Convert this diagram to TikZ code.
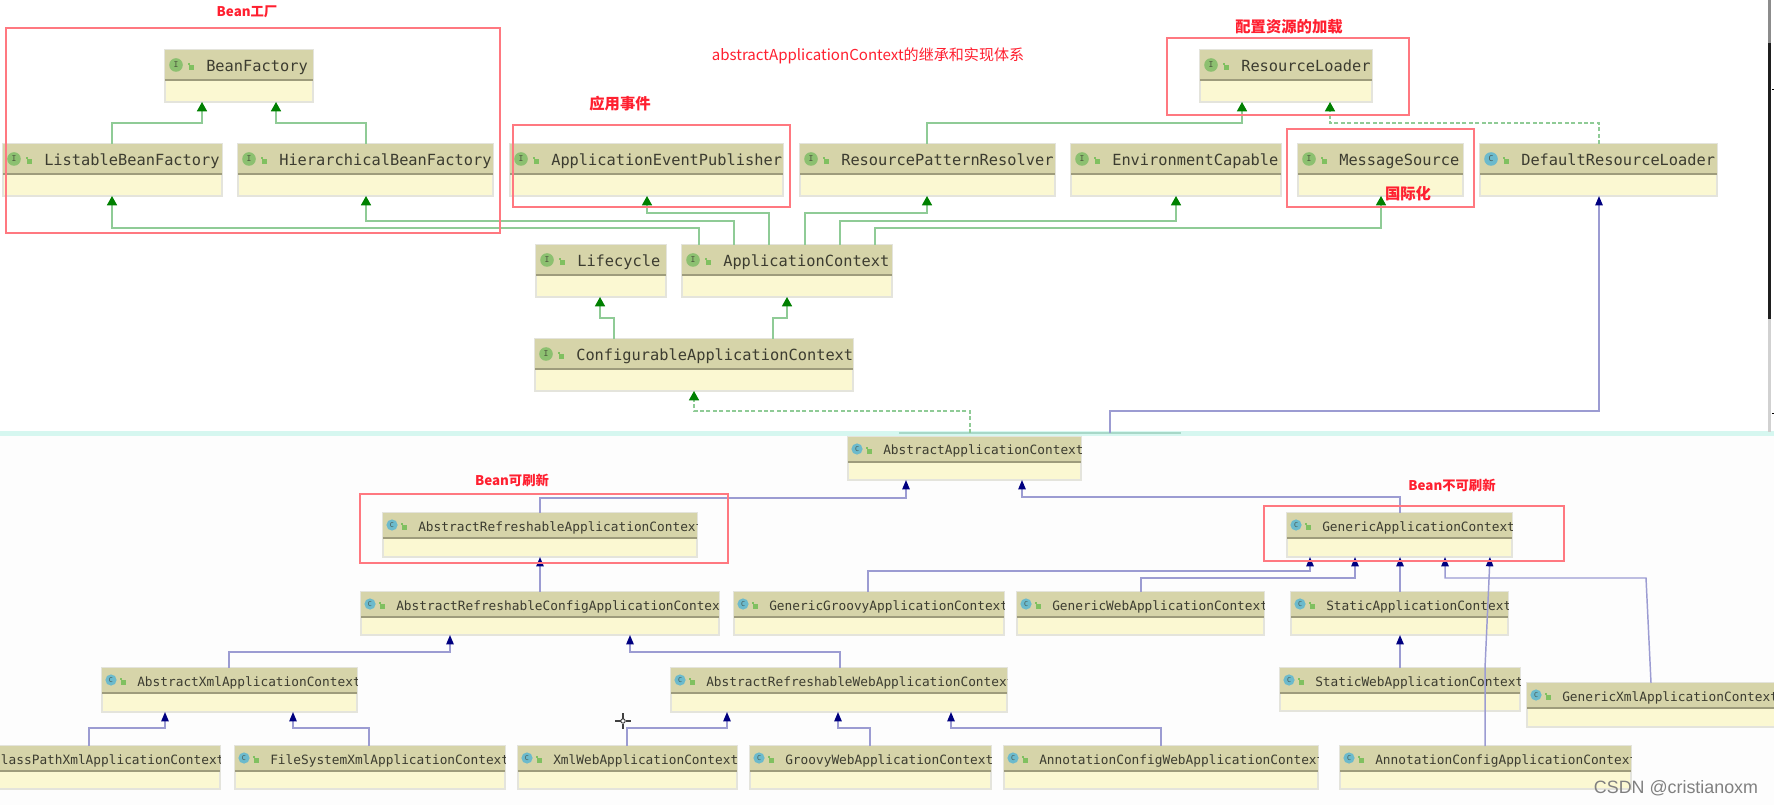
\documentclass[tikz,border=0pt]{standalone}
\usepackage{fontspec}
\usetikzlibrary{arrows.meta,calc}
\newfontfamily\cjkfont{Noto Sans CJK SC}
\newfontfamily\monofnt{DejaVu Sans Mono}
\newfontfamily\wmfont{Liberation Sans}
\definecolor{hdr}{HTML}{D6D4A9}
\definecolor{bodyc}{HTML}{FBF8D2}
\definecolor{sepc}{HTML}{9E9C7C}
\definecolor{brd}{HTML}{E4E4DC}
\definecolor{txtc}{HTML}{3C3C30}
\definecolor{gline}{HTML}{8FCB96}
\definecolor{gtip}{HTML}{008000}
\definecolor{bline}{HTML}{9C9CD2}
\definecolor{btip}{HTML}{000080}
\definecolor{redf}{HTML}{FF7880}
\definecolor{redt}{HTML}{FF2030}
\definecolor{igreen}{HTML}{8CC070}
\definecolor{icyan}{HTML}{6CBACC}
\definecolor{lockg}{HTML}{80C060}
\definecolor{bandd}{HTML}{A8D8C8}
\definecolor{bandl}{HTML}{D6F7F0}
\tikzset{
  umlshape/.style={rectangle,inner sep=0pt,outer sep=0pt,draw=brd,line width=1pt,fill=bodyc},
  gedge/.style={draw=gline,line width=1.2pt,-{Triangle[length=7pt,width=7.5pt,color=gtip,fill=gtip]}},
  gdash/.style={gedge,dash pattern=on 3pt off 1.8pt},
  bedge/.style={draw=bline,line width=1.1pt,-{Triangle[length=7pt,width=5.5pt,color=btip,fill=btip]}},
  redframe/.style={draw=redf,line width=1pt},
  redlabel/.style={text=redt,font=\cjkfont\bfseries\fontsize{10pt}{12pt}\selectfont,inner sep=0pt},
  redlabelb/.style={redlabel,font=\cjkfont\bfseries\fontsize{11.5pt}{13pt}\selectfont},
}
% #1 name, #2 letter, #3 colour, #4 x1, #5 y1, #6 x2, #7 y2, #8 text, #9 level
\newcommand{\umlbox}[9]{%
  \pgfmathsetmacro{\bw}{#6-#4}\pgfmathsetmacro{\bh}{#7-#5}%
  \pgfmathsetmacro{\bx}{(#4+#6)/2}\pgfmathsetmacro{\by}{(#5+#7)/2}%
  \ifnum#9=1
    \def\hh{30}\def\icx{11}\def\icy{15}\def\icr{6.8}\def\lkx{26}\def\tx{41}\def\tby{22}\def\fs{11.5pt}\def\ils{6pt}%
  \else
    \def\hh{25}\def\icx{9}\def\icy{12}\def\icr{5.6}\def\lkx{21}\def\tx{35}\def\tby{18}\def\fs{9.6pt}\def\ils{5pt}%
  \fi
  \node[umlshape,minimum width=\bw*0.75pt,minimum height=\bh*0.75pt] (#1) at (\bx,\by) {};%
  \begin{scope}
    \clip (#4,#5) rectangle (#6,#7);
    \fill[hdr] (#4,#5) rectangle (#6,#5+\hh);
    \fill[sepc] (#4,#5+\hh-1.2) rectangle (#6,#5+\hh+0.6);
    \fill[#3] (#4+\icx,#5+\icy) circle[radius=\icr];
    \node[text=txtc!80!#3,inner sep=0pt,font=\monofnt\fontsize{\ils}{\ils}\selectfont] (#1-i) at (#4+\icx,#5+\icy) {#2};
    \fill[lockg] (#4+\lkx-3,#5+\icy-2) rectangle (#4+\lkx-1,#5+\icy+0);
    \fill[lockg] (#4+\lkx-2,#5+\icy) rectangle (#4+\lkx+3,#5+\icy+5);
    \node[anchor=base west,inner sep=0pt,text=txtc,font=\monofnt\fontsize{\fs}{\fs}\selectfont] (#1-t) at (#4+\tx,#5+\tby) {#8};
  \end{scope}%
}
\begin{document}
\begin{tikzpicture}[x=0.75pt,y=-0.75pt]
\useasboundingbox (0,0) rectangle (1774,805);
\fill[white] (0,0) rectangle (1774,805);
\fill[black!0.7] (0,434) rectangle (1774,805);
% named helpers for the elbows
\foreach \v in {89,112,165,202,229,276,293,366,369,450,540,600,614,627,630,647,694,699,727,734,769,773,787,805,838,840,868,870,875,906,927,951,970,1022,1110,1141,1161,1176,1242,1310,1330,1355,1381,1400,1445,1485,1490,1599,1646,1651}{\coordinate (x\v) at (\v,0);}
\foreach \v in {123,213,221,228,318,411,497,498,571,578,652,668,728}{\coordinate (y\v) at (0,\v);}
% separator band
\fill[bandl] (0,431.5) rectangle (1774,435.5);
\fill[bandd] (899,432) rectangle (1181,434.4);
% boxes
\umlbox{bf}{I}{igreen}{165}{50}{313}{102}{BeanFactory}{1}
\umlbox{lbf}{I}{igreen}{3}{144}{222}{196}{ListableBeanFactory}{1}
\umlbox{hbf}{I}{igreen}{238}{144}{493}{196}{HierarchicalBeanFactory}{1}
\umlbox{aep}{I}{igreen}{510}{144}{783}{196}{ApplicationEventPublisher}{1}
\umlbox{rpr}{I}{igreen}{800}{144}{1055}{196}{ResourcePatternResolver}{1}
\umlbox{env}{I}{igreen}{1071}{144}{1281}{196}{EnvironmentCapable}{1}
\umlbox{ms}{I}{igreen}{1298}{144}{1463}{196}{MessageSource}{1}
\umlbox{drl}{C}{icyan}{1480}{144}{1717}{196}{DefaultResourceLoader}{1}
\umlbox{rl}{I}{igreen}{1200}{50}{1372}{102}{ResourceLoader}{1}
\umlbox{lc}{I}{igreen}{536}{245}{666}{297}{Lifecycle}{1}
\umlbox{ac}{I}{igreen}{682}{245}{892}{297}{ApplicationContext}{1}
\umlbox{conf}{I}{igreen}{535}{339}{853}{391}{ConfigurableApplicationContext}{1}
\umlbox{aac}{C}{icyan}{848}{437}{1081}{480}{AbstractApplicationContext}{2}
\umlbox{arac}{C}{icyan}{383}{513}{697}{557}{AbstractRefreshableApplicationContext}{2}
\umlbox{gac}{C}{icyan}{1287}{513}{1512}{557}{GenericApplicationContext}{2}
\umlbox{arcc}{C}{icyan}{361}{592}{719}{635}{AbstractRefreshableConfigApplicationContext}{2}
\umlbox{ggr}{C}{icyan}{734}{592}{1004}{635}{GenericGroovyApplicationContext}{2}
\umlbox{gwac}{C}{icyan}{1017}{592}{1264}{635}{GenericWebApplicationContext}{2}
\umlbox{sac}{C}{icyan}{1291}{592}{1508}{635}{StaticApplicationContext}{2}
\umlbox{axac}{C}{icyan}{102}{668}{357}{712}{AbstractXmlApplicationContext}{2}
\umlbox{arwc}{C}{icyan}{671}{668}{1007}{712}{AbstractRefreshableWebApplicationContext}{2}
\umlbox{swac}{C}{icyan}{1280}{668}{1520}{711}{StaticWebApplicationContext}{2}
\umlbox{gxac}{C}{icyan}{1527}{683}{1795}{727}{GenericXmlApplicationContext}{2}
\umlbox{cpx}{C}{icyan}{-42}{746}{220}{789}{ClassPathXmlApplicationContext}{2}
\umlbox{fsx}{C}{icyan}{235}{746}{505}{789}{FileSystemXmlApplicationContext}{2}
\umlbox{xwac}{C}{icyan}{518}{746}{737}{789}{XmlWebApplicationContext}{2}
\umlbox{gwb}{C}{icyan}{750}{746}{991}{789}{GroovyWebApplicationContext}{2}
\umlbox{acw}{C}{icyan}{1004}{746}{1318}{789}{AnnotationConfigWebApplicationContext}{2}
\umlbox{aca}{C}{icyan}{1340}{746}{1631}{789}{AnnotationConfigApplicationContext}{2}
% green connectors
\draw[gedge] (lbf.north -| x112) |- (y123 -| x202) -- (bf.south -| x202);
\draw[gedge] (hbf.north -| x366) |- (y123 -| x276) -- (bf.south -| x276);
\draw[gedge] (ac.north -| x699) |- (y228 -| x112) -- (lbf.south -| x112);
\draw[gedge] (ac.north -| x734) |- (y221 -| x366) -- (hbf.south -| x366);
\draw[gedge] (ac.north -| x769) |- (y213 -| x647) -- (aep.south -| x647);
\draw[gedge] (ac.north -| x805) |- (y213 -| x927) -- (rpr.south -| x927);
\draw[gedge] (ac.north -| x840) |- (y221 -| x1176) -- (env.south -| x1176);
\draw[gedge] (ac.north -| x875) |- (y228 -| x1381) -- (ms.south -| x1381);
\draw[gedge] (rpr.north -| x927) |- (y123 -| x1242) -- (rl.south -| x1242);
\draw[gedge] (conf.north -| x614) |- (y318 -| x600) -- (lc.south -| x600);
\draw[gedge] (conf.north -| x773) |- (y318 -| x787) -- (ac.south -| x787);
\draw[gdash] (drl.north -| x1599) |- (y123 -| x1330) -- (rl.south -| x1330);
\draw[gdash,shorten <=3pt] (aac.north -| x970) |- (y411 -| x694) -- (conf.south -| x694);
% blue connectors
\draw[bedge,shorten <=3pt] (aac.north -| x1110) |- (y411 -| x1599) -- (drl.south -| x1599);
\draw[bedge] (arac.north -| x540) |- (y498 -| x906) -- (aac.south -| x906);
\draw[bedge] (gac.north -| x1400) |- (y497 -| x1022) -- (aac.south -| x1022);
\draw[bedge] (arcc.north -| x540) -- (arac.south -| x540);
\draw[bedge] (axac.north -| x229) |- (y652 -| x450) -- (arcc.south -| x450);
\draw[bedge] (arwc.north -| x840) |- (y652 -| x630) -- (arcc.south -| x630);
\draw[bedge] (cpx.north -| x89) |- (y728 -| x165) -- (axac.south -| x165);
\draw[bedge] (fsx.north -| x369) |- (y728 -| x293) -- (axac.south -| x293);
\draw[bedge] (xwac.north -| x627) |- (y728 -| x727) -- (arwc.south -| x727);
\draw[bedge] (gwb.north -| x870) |- (y728 -| x838) -- (arwc.south -| x838);
\draw[bedge] (acw.north -| x1161) |- (y728 -| x951) -- (arwc.south -| x951);
\draw[bedge] (ggr.north -| x868) |- (y571 -| x1310) -- (gac.south -| x1310);
\draw[bedge] (gwac.north -| x1141) |- (y578 -| x1355) -- (gac.south -| x1355);
\draw[bedge] (sac.north -| x1400) -- (gac.south -| x1400);
\draw[bedge] (swac.north -| x1400) -- (sac.south -| x1400);
\draw[bedge] (gxac.north -| x1651) -- (y578 -| x1646) -- (y578 -| x1445) -- (gac.south -| x1445);
\draw[bedge] (aca.north -| x1485) -- (y668 -| x1485) -- (gac.south -| x1490);
% red frames
\draw[redframe] (6,28) rectangle (500,233);
\draw[redframe] (513,125) rectangle (790,207);
\draw[redframe] (1167,38) rectangle (1409,115);
\draw[redframe] (1287,129) rectangle (1474,207);
\draw[redframe] (360,494) rectangle (728,563);
\draw[redframe] (1264,506) rectangle (1564,561);
% red labels
\node[redlabel] (t1) at (247,12) {Bean工厂};
\node[redlabelb] (t2) at (620,104) {应用事件};
\node[redlabelb] (t3) at (1289,27) {配置资源的加载};
\node[redlabelb] (t4) at (1408,194) {国际化};
\node[redlabel,font=\cjkfont\fontsize{11.3pt}{13pt}\selectfont] (t5) at (868,56) {abstractApplicationContext的继承和实现体系};
\node[redlabel] (t6) at (512,480) {Bean可刷新};
\node[redlabel] (t7) at (1452,485) {Bean不可刷新};
% cursor
\draw[black!75,line width=0.9pt] (623,713) -- (623,718.5) (623,723.5) -- (623,729) (615,721) -- (620.5,721) (625.5,721) -- (631,721);
\draw[black!75,line width=0.7pt] (623,721) circle[radius=2.2];
% right edge of the screenshot
\fill[black!45] (1768,0) rectangle (1771,43);
\fill[black!88] (1768,43) rectangle (1771,319);
\fill[black!18] (1768,319) rectangle (1771,432);
\fill[black] (1772,89.5) rectangle (1774,90.5);
\fill[black] (1772,413) rectangle (1774,414);
% watermark
\node[inner sep=0pt,text=black!50,font=\wmfont\fontsize{13.4pt}{16pt}\selectfont] (wm) at (1676,788) {CSDN @cristianoxm};
\end{tikzpicture}
\end{document}
